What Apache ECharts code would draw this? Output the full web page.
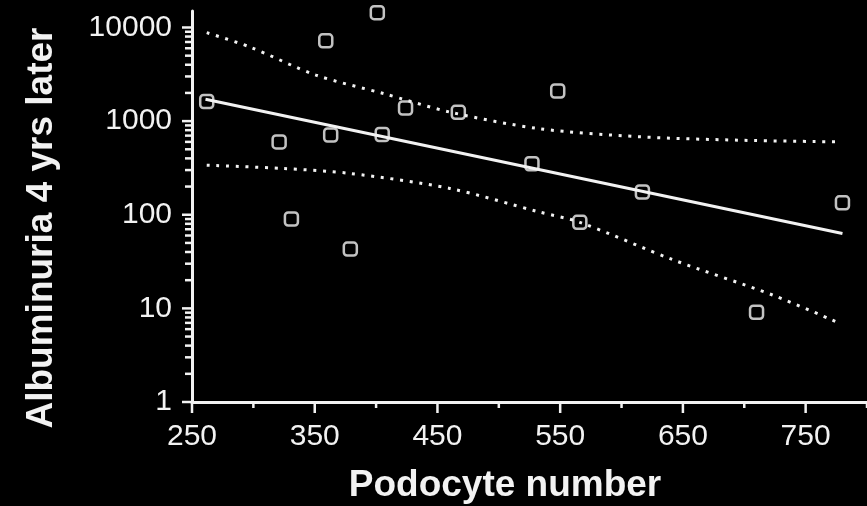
<!DOCTYPE html>
<html>
<head>
<meta charset="utf-8">
<style>
html,body{
    margin:0;
    padding:0;
    background:#000;
}
#chart{
    width:867px;
    height:506px;
}
</style>
</head>
<body>
<div id="chart"></div>
<script src="https://cdn.jsdelivr.net/npm/echarts@6/dist/echarts.min.js"></script>
<script type="text/javascript">
// podocyte number vs albuminuria
var podocytes = [262, 321, 331, 359, 363, 379, 401, 405, 424, 467, 527, 548, 566, 617, 710, 780];
var albuminuria = [1620, 600, 90, 7200, 710, 43, 14400, 720, 1380, 1240, 350, 2100, 83, 175, 9.1, 134];

// regression line
var fitX = [261, 780];
var fitY = [1710, 63];

// confidence bands
var upperX = [262, 297, 351, 406, 460, 533, 615, 696, 778];
var upperY = [8800, 6200, 3100, 1970, 1250, 830, 680, 625, 600];
var lowerX = [262, 324, 379, 460, 533, 566, 642, 723, 778];
var lowerY = [338, 312, 276, 191, 107, 83, 33, 13.9, 6.9];

// ticks
var xMajor = [250, 350, 450, 550, 650, 750];
var xMinor = [300, 400, 500, 600, 700, 800];
var yMajor = [1, 10, 100, 1000, 10000];
var yMinor = [];
for (var d = 1; d <= 1000; d *= 10) {
    for (var m = 2; m <= 9; m++) yMinor.push(m * d);
}

var font = "'Liberation Sans', Arial, sans-serif";
var white = '#f2f2f2';

function pairs(xs, ys) {
    var out = [];
    for (var i = 0; i < xs.length; i++) out.push([xs[i], ys[i]]);
    return out;
}
function plain(v) {
    return String(Math.round(v));
}

// tick marks: [x, y, dx, dy] -> short line out from the axis point
var tickData = [];
xMajor.forEach(function (v) { tickData.push([v, 1, 0, 11]); });
xMinor.forEach(function (v) { tickData.push([v, 1, 0, 6]); });
yMajor.forEach(function (v) { tickData.push([250, v, -10, 0]); });
yMinor.forEach(function (v) { tickData.push([250, v, -7, 0]); });

function renderTick(params, api) {
    var p = api.coord([api.value(0), api.value(1)]);
    return {
        type: 'line',
        shape: {x1: p[0], y1: p[1], x2: p[0] + api.value(2), y2: p[1] + api.value(3)},
        style: {stroke: white, lineWidth: 2.5}
    };
}

var myChart = echarts.init(document.getElementById('chart'));
var option = {
    backgroundColor: '#000',
    animation: false,
    grid: {left: 192, right: 0, top: 11, bottom: 104},
    xAxis: {
        type: 'value', min: 250, max: 800, interval: 50,
        axisLine: {show: true, lineStyle: {color: white, width: 3}},
        axisTick: {show: false},
        splitLine: {show: false},
        axisLabel: {customValues: xMajor, formatter: plain, color: white, fontSize: 30, fontFamily: font, margin: 20}
    },
    yAxis: {
        type: 'log', min: 1, max: 15000,
        axisLine: {show: true, lineStyle: {color: white, width: 3}},
        axisTick: {show: false},
        splitLine: {show: false},
        axisLabel: {customValues: yMajor, formatter: plain, color: white, fontSize: 30, fontFamily: font, margin: 20}
    },
    graphic: [
        {
            type: 'text', x: 505, y: 486,
            style: {text: 'Podocyte number', fill: white, font: 'bold 37px ' + font, align: 'center', verticalAlign: 'middle'}
        },
        {
            type: 'text', x: 42, y: 228, rotation: Math.PI / 2,
            style: {text: 'Albuminuria 4 yrs later', fill: white, font: 'bold 37px ' + font, align: 'center', verticalAlign: 'middle'}
        }
    ],
    series: [
        {
            type: 'custom', silent: true, clip: false,
            renderItem: renderTick,
            data: tickData
        },
        {
            type: 'line', symbol: 'none', silent: true,
            lineStyle: {color: white, width: 3},
            data: pairs(fitX, fitY)
        },
        {
            type: 'line', symbol: 'none', silent: true, smooth: 0.3,
            lineStyle: {color: white, width: 3, type: [3, 6.7]},
            data: pairs(upperX, upperY)
        },
        {
            type: 'line', symbol: 'none', silent: true, smooth: 0.3,
            lineStyle: {color: white, width: 3, type: [3, 6.7]},
            data: pairs(lowerX, lowerY)
        },
        {
            type: 'scatter', clip: false,
            symbol: 'roundRect', symbolSize: 13,
            itemStyle: {color: '#000', borderColor: white, borderWidth: 2.5},
            data: pairs(podocytes, albuminuria)
        }
    ]
};
myChart.setOption(option);
</script>
</body>
</html>
